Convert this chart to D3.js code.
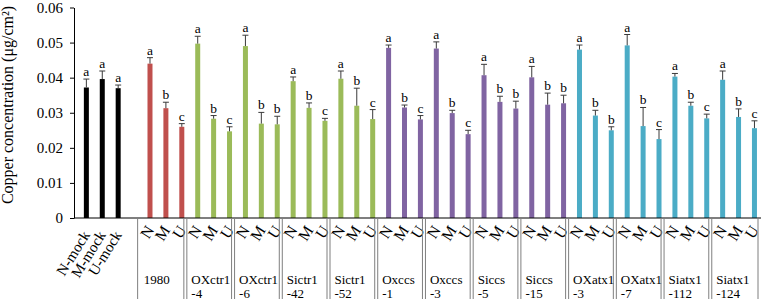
<!DOCTYPE html>
<html>
<head>
<meta charset="utf-8">
<script src="https://cdn.jsdelivr.net/npm/d3@7"></script>
<style>
  body { margin: 0; background: #fff; }
  svg { display: block; font-family: "Liberation Serif", "Times New Roman", serif; }
</style>
</head>
<body>
<svg id="chart" width="763" height="299"></svg>
<script>
// data
const groups = ['mock', '1980', 'OXctr1-4', 'OXctr1-6', 'Sictr1-42', 'Sictr1-52',
    'Oxccs-1', 'Oxccs-3', 'Siccs-5', 'Siccs-15', 'OXatx1-3', 'OXatx1-7', 'Siatx1-112', 'Siatx1-124'];
const groupLabels = [[], ['1980'], ['OXctr1', '-4'], ['OXctr1', '-6'], ['Sictr1', '-42'], ['Sictr1', '-52'],
    ['Oxccs', '-1'], ['Oxccs', '-3'], ['Siccs', '-5'], ['Siccs', '-15'],
    ['OXatx1', '-3'], ['OXatx1', '-7'], ['Siatx1', '-112'], ['Siatx1', '-124']];
const mockLabels = ['N-mock', 'M-mock', 'U-mock'];
const treatments = ['N', 'M', 'U'];
const families = ['mock', 'wt', 'ctr', 'ctr', 'ctr', 'ctr', 'ccs', 'ccs', 'ccs', 'ccs', 'atx', 'atx', 'atx', 'atx'];
const means = [
    [0.0372, 0.0396, 0.0370],
    [0.0440, 0.0313, 0.0260],
    [0.0497, 0.0283, 0.0247],
    [0.0490, 0.0269, 0.0267],
    [0.0390, 0.0314, 0.0277],
    [0.0397, 0.0320, 0.0282],
    [0.0485, 0.0315, 0.0281],
    [0.0483, 0.0299, 0.0239],
    [0.0407, 0.0331, 0.0312],
    [0.0401, 0.0323, 0.0327],
    [0.0480, 0.0292, 0.0250],
    [0.0492, 0.0262, 0.0225],
    [0.0403, 0.0320, 0.0284],
    [0.0394, 0.0288, 0.0256]
];
const sds = [
    [0.0024, 0.0023, 0.0009],
    [0.0017, 0.0017, 0.0009],
    [0.0021, 0.0009, 0.0013],
    [0.0031, 0.0032, 0.0023],
    [0.0012, 0.0014, 0.0007],
    [0.0022, 0.0050, 0.0027],
    [0.0008, 0.0007, 0.0011],
    [0.0019, 0.0008, 0.0011],
    [0.0031, 0.0016, 0.0021],
    [0.0031, 0.0033, 0.0023],
    [0.0013, 0.0015, 0.0010],
    [0.0031, 0.0053, 0.0027],
    [0.0009, 0.0010, 0.0012],
    [0.0025, 0.0023, 0.0021]
];
const letters = [
    ['a', 'a', 'a'], ['a', 'b', 'c'], ['a', 'b', 'c'], ['a', 'b', 'b'], ['a', 'b', 'c'], ['a', 'b', 'c'],
    ['a', 'b', 'c'], ['a', 'b', 'c'], ['a', 'b', 'b'], ['a', 'b', 'b'], ['a', 'b', 'b'], ['a', 'b', 'c'],
    ['a', 'b', 'c'], ['a', 'b', 'c']
];
const yTicks = [0, 0.01, 0.02, 0.03, 0.04, 0.05, 0.06];

const serif = '"Liberation Serif", "Times New Roman", serif';

const familyColor = d3.scaleOrdinal()
    .domain(['mock', 'wt', 'ctr', 'ccs', 'atx'])
    .range(['#000000', '#C0504D', '#9BBB59', '#8064A2', '#4BACC6']);

// flatten into slots: mock uses slots 0-2, slot 3 is empty, then 3 per line
const bars = [];
groups.forEach((g, gi) => {
    treatments.forEach((t, ti) => {
        const slot = gi === 0 ? ti : 4 + (gi - 1) * 3 + ti;
        bars.push({
            group: g, gi, ti, slot,
            value: means[gi][ti],
            sd: sds[gi][ti],
            letter: letters[gi][ti],
            label: gi === 0 ? mockLabels[ti] : t,
            color: familyColor(families[gi])
        });
    });
});
const nSlots = 4 + (groups.length - 1) * 3;

const svg = d3.select('#chart');
const axisX = 74;

const x = d3.scaleBand().domain(d3.range(nSlots)).range([axisX, 758]).padding(0);
const y = d3.scaleLinear().domain([0, 0.06]).range([218, 7.5]);
const barW = 5;
const cx = d => x(d.slot) + x.step() * 0.62 + barW / 2;

// bars
svg.append('g').selectAll('rect')
    .data(bars)
    .enter()
    .append('rect')
    .attr('x', d => cx(d) - barW / 2)
    .attr('y', d => y(d.value))
    .attr('width', barW)
    .attr('height', d => y(0) - y(d.value))
    .attr('fill', d => d.color);

// error bars (upper only)
const err = svg.append('g').attr('stroke', '#3a3a3a').attr('stroke-width', 1);
err.selectAll('line.stem')
    .data(bars)
    .enter()
    .append('line')
    .attr('class', 'stem')
    .attr('x1', d => cx(d)).attr('x2', d => cx(d))
    .attr('y1', d => y(d.value)).attr('y2', d => y(d.value + d.sd));
err.selectAll('line.cap')
    .data(bars)
    .enter()
    .append('line')
    .attr('class', 'cap')
    .attr('x1', d => cx(d) - 3).attr('x2', d => cx(d) + 3)
    .attr('y1', d => y(d.value + d.sd)).attr('y2', d => y(d.value + d.sd));

// significance letters
svg.append('g').selectAll('text')
    .data(bars)
    .enter()
    .append('text')
    .attr('x', d => cx(d))
    .attr('y', d => y(d.value + d.sd) - 3)
    .attr('text-anchor', 'middle')
    .attr('font-family', serif)
    .attr('font-size', 13.5)
    .attr('fill', '#000')
    .text(d => d.letter);

// y axis
const yAxis = svg.append('g')
    .attr('transform', `translate(${axisX},0)`)
    .call(d3.axisLeft(y).tickValues(yTicks).tickSize(4).tickSizeOuter(0)
        .tickFormat(d => d === 0 ? '0' : d.toFixed(2)));
yAxis.select('.domain').attr('stroke', '#000');
yAxis.selectAll('.tick line').attr('stroke', '#000');
yAxis.selectAll('.tick text')
    .attr('x', -11)
    .attr('font-family', serif)
    .attr('font-size', 15)
    .attr('fill', '#000');

// y label
svg.append('text')
    .attr('transform', 'translate(13,105) rotate(-90)')
    .attr('text-anchor', 'middle')
    .attr('font-family', serif)
    .attr('font-size', 16)
    .text('Copper concentration (μg/cm²)');

// x axis line
svg.append('line')
    .attr('x1', axisX).attr('x2', 761)
    .attr('y1', y(0)).attr('y2', y(0))
    .attr('stroke', '#000').attr('stroke-width', 1.2);

// rotated treatment labels
svg.append('g').selectAll('text')
    .data(bars)
    .enter()
    .append('text')
    .attr('transform', d => d.gi === 0
        ? `translate(${cx(d) + 4},${y(0) + 17}) rotate(-58)`
        : `translate(${cx(d) + 5},${y(0) + 12}) rotate(-58)`)
    .attr('text-anchor', 'end')
    .attr('font-family', serif)
    .attr('font-size', d => d.gi === 0 ? 15 : 16)
    .attr('fill', '#000')
    .text(d => d.label);

// group separators
const bounds = groups.slice(1).map((g, i) => x(4 + i * 3)).concat([x.range()[1]]);
const sep = svg.append('g').attr('stroke', '#7f7f7f').attr('stroke-width', 1);
bounds.forEach((b, i) => {
    const single = i === 0 || i === bounds.length - 1;
    const offs = single ? [0] : [-1.5, 1.5];
    offs.forEach(o => {
        sep.append('line')
            .attr('x1', b + o).attr('x2', b + o)
            .attr('y1', y(0)).attr('y2', 299);
    });
});

// group labels
groups.forEach((g, gi) => {
    if (gi === 0) return;
    const gx = x(4 + (gi - 1) * 3) + 6;
    const t = svg.append('text')
        .attr('x', gx)
        .attr('y', 284)
        .attr('font-family', serif)
        .attr('font-size', 13)
        .attr('fill', '#000');
    groupLabels[gi].forEach((s, li) => {
        t.append('tspan')
            .attr('x', gx)
            .attr('dy', li === 0 ? 0 : 13.5)
            .text(s);
    });
});
</script>
</body>
</html>
